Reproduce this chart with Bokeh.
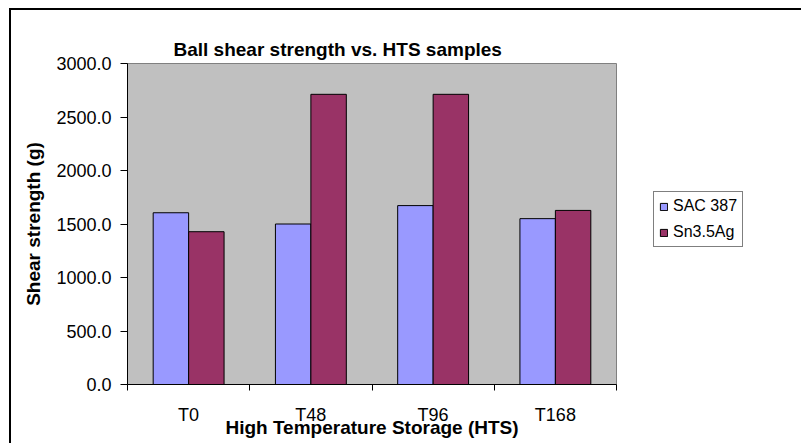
import numpy as np
from bokeh.plotting import figure
from bokeh.layouts import row
from bokeh.models import (ColumnDataSource, Range1d, FixedTicker, PrintfTickFormatter,
                          CustomJSTickFormatter, Legend, LegendItem, Title, InlineStyleSheet)
from bokeh.transform import dodge
from bokeh.embed import file_html
from bokeh.resources import INLINE

categories = ["T0", "T48", "T96", "T168"]
sac387 = [1605, 1500, 1672, 1550]
sn35ag = [1428, 2712, 2712, 1627]
series_names = ["SAC 387", "Sn3.5Ag"]
series_colors = ["#9999FF", "#993366"]
y_ticks = [0, 500, 1000, 1500, 2000, 2500, 3000]

FONT = "Liberation Sans"

src = ColumnDataSource(dict(x=np.arange(len(categories)) + 0.5, sac=sac387, sn=sn35ag))

p = figure(width=617, height=443, output_backend="svg", toolbar_location=None,
           x_range=Range1d(0, len(categories)), y_range=Range1d(0, 3000),
           min_border_left=127, min_border_right=1, min_border_top=63, min_border_bottom=59)

p.background_fill_color = "#C0C0C0"
p.border_fill_color = "white"
p.outline_line_color = "#808080"
p.outline_line_width = 1
p.xgrid.visible = False
p.ygrid.visible = False

bw = 0.29
p.vbar(x=dodge("x", -bw / 2), top="sac", width=bw, source=src,
       fill_color=series_colors[0], line_color="black", line_width=1)
p.vbar(x=dodge("x", bw / 2), top="sn", width=bw, source=src,
       fill_color=series_colors[1], line_color="black", line_width=1)

# y axis
ya = p.yaxis[0]
ya.ticker = FixedTicker(ticks=y_ticks)
ya.formatter = PrintfTickFormatter(format="%.1f")
ya.major_tick_in = 0
ya.major_tick_out = 7
ya.minor_tick_in = 0
ya.minor_tick_out = 0
ya.major_tick_line_color = "black"
ya.axis_line_color = "black"
ya.major_label_text_font = FONT
ya.major_label_text_font_size = "18px"
ya.major_label_text_color = "black"
ya.major_label_standoff = 9
ya.axis_label = "Shear strength (g)"
ya.axis_label_text_font = FONT
ya.axis_label_text_font_size = "19px"
ya.axis_label_text_font_style = "bold"
ya.axis_label_text_color = "black"
ya.axis_label_standoff = 9

# x axis: labels at category centres, tick marks at boundaries
xa = p.xaxis[0]
xa.ticker = FixedTicker(ticks=list(np.arange(len(categories)) + 0.5),
                        minor_ticks=list(range(len(categories) + 1)))
xa.formatter = CustomJSTickFormatter(args=dict(labels=categories),
                                     code="return labels[Math.floor(tick)];")
xa.major_tick_in = 0
xa.major_tick_out = 0
xa.minor_tick_in = 0
xa.minor_tick_out = 6
xa.minor_tick_line_color = "black"
xa.axis_line_color = "black"
xa.major_label_text_font = FONT
xa.major_label_text_font_size = "18px"
xa.major_label_text_color = "black"
xa.major_label_standoff = 14
xa.axis_label = "High Temperature Storage (HTS)"
xa.axis_label_text_font = FONT
xa.axis_label_text_font_size = "19px"
xa.axis_label_text_font_style = "bold"
xa.axis_label_text_color = "black"
xa.axis_label_standoff = -11

p.add_layout(Title(text="Ball shear strength vs. HTS samples", align="left", offset=46,
                   text_font=FONT, text_font_size="19px", text_font_style="bold",
                   text_color="black", standoff=7), "above")

# legend panel (separate figure to the right of the plot)
lf = figure(width=184, height=443, output_backend="svg", toolbar_location=None,
            x_axis_type=None, y_axis_type=None, x_range=Range1d(0, 1), y_range=Range1d(0, 1),
            min_border=0, outline_line_color=None)
lf.xgrid.visible = False
lf.ygrid.visible = False
lf.background_fill_color = "white"
lf.border_fill_color = "white"
empty = ColumnDataSource(dict(x=[np.nan], top=[np.nan]))
lr1 = lf.vbar(x="x", top="top", width=bw, source=empty,
              fill_color=series_colors[0], line_color="black", line_width=1)
lr2 = lf.vbar(x="x", top="top", width=bw, source=empty,
              fill_color=series_colors[1], line_color="black", line_width=1)

legend = Legend(items=[LegendItem(label=series_names[0], renderers=[lr1]),
                       LegendItem(label=series_names[1], renderers=[lr2])],
                location=(36, 137), orientation="vertical",
                glyph_width=9, glyph_height=9, label_height=18, label_standoff=5,
                spacing=8, padding=5, margin=0,
                label_text_font=FONT, label_text_font_size="16px", label_text_color="black",
                border_line_color="black", border_line_width=1,
                background_fill_color="white", background_fill_alpha=1)
lf.add_layout(legend, "center")

layout = row(p, lf, spacing=0)
layout.stylesheets = [InlineStyleSheet(css="""
:host::after {
  content: "";
  position: absolute;
  left: 9px;
  top: 8px;
  width: 1200px;
  height: 1200px;
  border: 2px solid #000;
  pointer-events: none;
  box-sizing: border-box;
  z-index: 10;
}
""")]

open("out.html", "w").write(file_html(layout, INLINE))
